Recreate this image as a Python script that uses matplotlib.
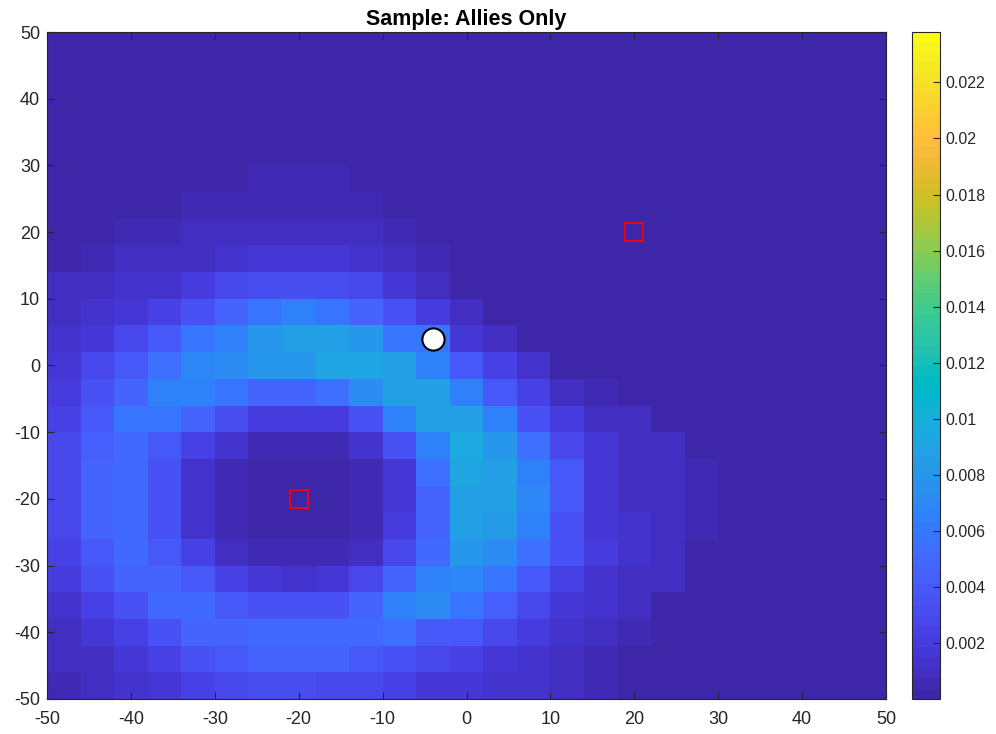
import numpy as np
import matplotlib
matplotlib.use("Agg")
import matplotlib.pyplot as plt
from matplotlib.colors import ListedColormap
from matplotlib.ticker import FormatStrFormatter

plt.rcParams['axes.unicode_minus'] = False
plt.rcParams['font.family'] = ['Liberation Sans', 'DejaVu Sans']

# parula (64 levels)
parula_rgb = [
    [0.2422, 0.1504, 0.6603], [0.2504, 0.1650, 0.7076], [0.2578, 0.1818, 0.7511], [0.2647, 0.1978, 0.7952],
    [0.2706, 0.2147, 0.8364], [0.2751, 0.2342, 0.8710], [0.2783, 0.2559, 0.8991], [0.2803, 0.2782, 0.9221],
    [0.2813, 0.3006, 0.9414], [0.2810, 0.3228, 0.9579], [0.2795, 0.3447, 0.9717], [0.2760, 0.3667, 0.9829],
    [0.2699, 0.3892, 0.9906], [0.2602, 0.4123, 0.9952], [0.2440, 0.4358, 0.9988], [0.2206, 0.4603, 0.9973],
    [0.1963, 0.4847, 0.9892], [0.1834, 0.5074, 0.9798], [0.1786, 0.5289, 0.9682], [0.1764, 0.5499, 0.9520],
    [0.1687, 0.5703, 0.9359], [0.1540, 0.5902, 0.9218], [0.1460, 0.6091, 0.9079], [0.1380, 0.6276, 0.8973],
    [0.1248, 0.6459, 0.8883], [0.1113, 0.6635, 0.8763], [0.0952, 0.6798, 0.8598], [0.0689, 0.6948, 0.8394],
    [0.0297, 0.7082, 0.8163], [0.0036, 0.7203, 0.7917], [0.0067, 0.7312, 0.7660], [0.0433, 0.7411, 0.7394],
    [0.0964, 0.7500, 0.7120], [0.1408, 0.7584, 0.6842], [0.1717, 0.7670, 0.6554], [0.1938, 0.7758, 0.6251],
    [0.2161, 0.7843, 0.5923], [0.2470, 0.7918, 0.5567], [0.2906, 0.7973, 0.5188], [0.3406, 0.8008, 0.4789],
    [0.3909, 0.8029, 0.4354], [0.4456, 0.8024, 0.3909], [0.5044, 0.7993, 0.3480], [0.5616, 0.7942, 0.3045],
    [0.6174, 0.7876, 0.2612], [0.6720, 0.7793, 0.2227], [0.7242, 0.7698, 0.1910], [0.7738, 0.7598, 0.1646],
    [0.8203, 0.7498, 0.1535], [0.8634, 0.7406, 0.1596], [0.9035, 0.7330, 0.1774], [0.9393, 0.7288, 0.2100],
    [0.9728, 0.7298, 0.2394], [0.9956, 0.7434, 0.2371], [0.9970, 0.7659, 0.2199], [0.9952, 0.7893, 0.2028],
    [0.9892, 0.8136, 0.1885], [0.9786, 0.8386, 0.1766], [0.9676, 0.8639, 0.1643], [0.9610, 0.8890, 0.1537],
    [0.9597, 0.9135, 0.1423], [0.9628, 0.9373, 0.1265], [0.9691, 0.9606, 0.1064], [0.9769, 0.9839, 0.0805],
]
parula = ListedColormap(parula_rgb, name="parula")

# grid cell centres (4 units wide)
x_centers = np.arange(-48, 49, 4)
y_centers = np.arange(-48, 49, 4)

# density, in units of 1e-4, rows from y=-48 (bottom) up to y=48
density_e4 = np.array([
    [6, 9, 12, 18, 24, 28, 31, 31, 29, 27, 24, 18, 18, 13, 12, 9, 6, 2, 2, 2, 2, 2, 2, 2, 2],
    [9, 10, 15, 24, 34, 40, 45, 45, 45, 40, 35, 28, 25, 17, 13, 11, 7, 2, 2, 2, 2, 2, 2, 2, 2],
    [11, 15, 23, 37, 45, 47, 49, 49, 51, 51, 54, 40, 38, 27, 19, 13, 9, 7, 2, 2, 2, 2, 2, 2, 2],
    [13, 24, 37, 49, 49, 40, 35, 34, 37, 45, 64, 73, 56, 41, 27, 17, 12, 8, 2, 2, 2, 2, 2, 2, 2],
    [19, 34, 45, 47, 40, 24, 17, 13, 15, 27, 47, 64, 68, 56, 38, 23, 13, 11, 8, 2, 2, 2, 2, 2, 2],
    [24, 40, 49, 40, 23, 9, 7, 7, 7, 11, 28, 52, 79, 71, 54, 34, 19, 13, 8, 2, 2, 2, 2, 2, 2],
    [27, 46, 49, 34, 13, 7, 3, 3, 3, 7, 19, 46, 86, 85, 64, 37, 18, 12, 8, 7, 2, 2, 2, 2, 2],
    [27, 46, 49, 34, 13, 7, 3, 3, 3, 7, 18, 46, 87, 87, 68, 38, 18, 11, 8, 7, 2, 2, 2, 2, 2],
    [27, 46, 52, 35, 14, 7, 3, 3, 3, 7, 18, 54, 92, 87, 64, 38, 18, 11, 8, 7, 2, 2, 2, 2, 2],
    [27, 41, 52, 40, 23, 12, 7, 7, 7, 13, 34, 66, 93, 79, 54, 28, 17, 11, 8, 2, 2, 2, 2, 2, 2],
    [24, 40, 56, 56, 46, 31, 19, 19, 22, 35, 64, 86, 86, 64, 34, 19, 9, 8, 2, 2, 2, 2, 2, 2, 2],
    [19, 35, 46, 64, 64, 56, 45, 45, 54, 72, 86, 86, 64, 38, 23, 9, 7, 3, 2, 2, 2, 2, 2, 2, 2],
    [17, 28, 38, 54, 68, 73, 79, 80, 91, 92, 88, 64, 38, 23, 13, 2, 2, 2, 2, 2, 2, 2, 2, 2, 2],
    [13, 18, 27, 40, 56, 64, 79, 86, 86, 79, 56, 56, 18, 9, 2, 2, 2, 2, 2, 2, 2, 2, 2, 2, 2],
    [10, 12, 17, 24, 35, 45, 56, 64, 56, 47, 35, 19, 8, 2, 2, 2, 2, 2, 2, 2, 2, 2, 2, 2, 2],
    [8, 9, 12, 14, 20, 27, 31, 32, 31, 27, 18, 9, 2, 2, 2, 2, 2, 2, 2, 2, 2, 2, 2, 2, 2],
    [3, 7, 8, 9, 11, 14, 17, 17, 17, 14, 10, 6, 2, 2, 2, 2, 2, 2, 2, 2, 2, 2, 2, 2, 2],
    [2, 3, 6, 7, 8, 10, 11, 11, 11, 9, 7, 3, 2, 2, 2, 2, 2, 2, 2, 2, 2, 2, 2, 2, 2],
    [2, 2, 2, 3, 5, 6, 7, 7, 7, 6, 3, 2, 2, 2, 2, 2, 2, 2, 2, 2, 2, 2, 2, 2, 2],
    [2, 2, 2, 2, 3, 3, 4, 4, 4, 3, 2, 2, 2, 2, 2, 2, 2, 2, 2, 2, 2, 2, 2, 2, 2],
    [2] * 25,
    [2] * 25,
    [2] * 25,
    [2] * 25,
    [2] * 25,
])
density = density_e4 * 1e-4
clim = (0.0, 0.0238)

enemy_x = [-20, 20]
enemy_y = [-20, 20]
sample_x = [-4]
sample_y = [4]

fig = plt.figure(figsize=(9.96, 7.34), dpi=100)
ax = fig.add_axes([0.0472, 0.0477, 0.8424, 0.9087])
cax = fig.add_axes([0.9157, 0.0477, 0.0281, 0.9087])

x_edges = np.append(x_centers - 2, x_centers[-1] + 2)
y_edges = np.append(y_centers - 2, y_centers[-1] + 2)
mesh = ax.pcolormesh(x_edges, y_edges, density, cmap=parula, vmin=clim[0], vmax=clim[1])

ax.plot(enemy_x, enemy_y, 's', ms=13, mfc='none', mec='red', mew=1.3)
ax.plot(sample_x, sample_y, 'o', ms=16, mfc='white', mec='black', mew=1.5)

ax.set_xlim(-50, 50)
ax.set_ylim(-50, 50)
ax.set_xticks(np.arange(-50, 51, 10))
ax.set_yticks(np.arange(-50, 51, 10))
ax.tick_params(direction='in', top=True, right=True, length=5, width=0.8,
               labelsize=13, colors='#262626', pad=5)
ax.tick_params(axis='x', pad=9)
for sp in ax.spines.values():
    sp.set_color('#262626')
    sp.set_linewidth(0.8)
ax.set_title("Sample: Allies Only", fontsize=15.5, fontweight='bold', pad=5)

cb = fig.colorbar(mesh, cax=cax)
cb.set_ticks(np.arange(0.002, 0.0221, 0.002))
cb.ax.yaxis.set_major_formatter(FormatStrFormatter('%g'))
cb.ax.tick_params(direction='in', length=5, width=0.8, labelsize=11.5, colors='#262626', pad=4)
cb.outline.set_edgecolor('#262626')
cb.outline.set_linewidth(0.8)

fig.savefig("out.png", dpi=100)
